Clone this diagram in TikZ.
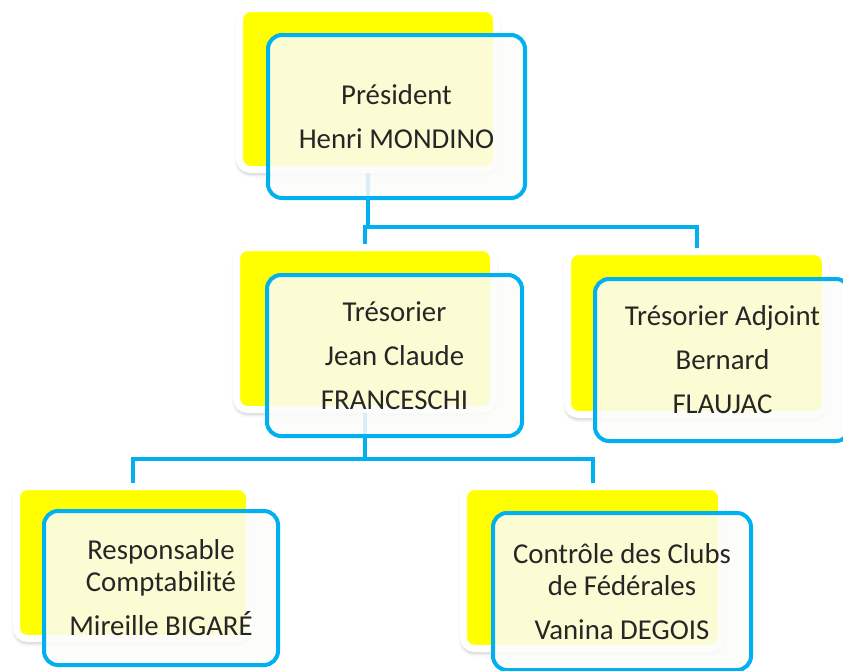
\documentclass[tikz,border=0pt]{standalone}
\usepackage{fontspec}
\setmainfont{Carlito}
\usetikzlibrary{shadows.blur}
\definecolor{obl}{RGB}{0,176,240}
\definecolor{yel}{RGB}{255,255,0}
\pgfdeclarelayer{bg}
\pgfsetlayers{bg,main}
\begin{document}
\begin{tikzpicture}[x=1pt,y=-1pt,
  ybox/.style={draw=white, line width=7pt, fill=yel, rounded corners=11pt, inner sep=0pt,
    blur shadow={shadow xshift=0pt, shadow yshift=-3pt, shadow blur radius=5pt, shadow opacity=40}},
  bbox/.style={draw=obl, line width=4pt, fill={rgb,255:red,252;green,252;blue,250}, fill opacity=0.85,
    text opacity=1, rounded corners=14pt, inner sep=0pt, align=center,
    font=\fontsize{28.8}{44}\selectfont, text=black!85},
  conn/.style={draw=obl, line width=4pt}]
\useasboundingbox (0,0) rectangle (843,670);

% President
\node[ybox, minimum width=257pt, minimum height=161pt] (pY) at (368,89) {};
\node[bbox, minimum width=257pt, minimum height=163pt] (pB) at (396.5,116.5)
  {Président\\Henri MONDINO};

% Tresorier
\node[ybox, minimum width=257pt, minimum height=162pt] (tY) at (365,328.5) {};
\node[bbox, minimum width=255pt, minimum height=161pt] (tB) at (394.5,355.5)
  {Trésorier\\Jean Claude\\FRANCESCHI};

% Tresorier adjoint
\node[ybox, minimum width=258pt, minimum height=163pt] (aY) at (696.5,333) {};
\node[bbox, minimum width=255pt, minimum height=162pt] (aB) at (722.5,360)
  {Trésorier Adjoint\\Bernard\\FLAUJAC};

% Responsable comptabilite
\node[ybox, minimum width=233pt, minimum height=152pt] (rY) at (133,562.5) {};
\node[bbox, minimum width=234pt, minimum height=154pt] (rB) at (161,588)
  {Responsable\\[-12pt]Comptabilité\\Mireille BIGARÉ};

% Controle des clubs
\node[ybox, minimum width=258pt, minimum height=162pt] (cY) at (592.5,567.5) {};
\node[bbox, minimum width=258pt, minimum height=157pt] (cB) at (622,591.5)
  {Contrôle des Clubs\\[-12pt]de Fédérales\\Vanina DEGOIS};

\coordinate (j1) at (368,227);
\coordinate (j2) at (365,459);

\begin{pgfonlayer}{bg}
  \draw[conn] (pY.south) -- (j1) -| (aY.north);
  \draw[conn] (j1) -| (tY.north);
  \draw[conn] (tY.south) -- (j2) -| (rY.north);
  \draw[conn] (j2) -| (cY.north);
\end{pgfonlayer}
\end{tikzpicture}
\end{document}
